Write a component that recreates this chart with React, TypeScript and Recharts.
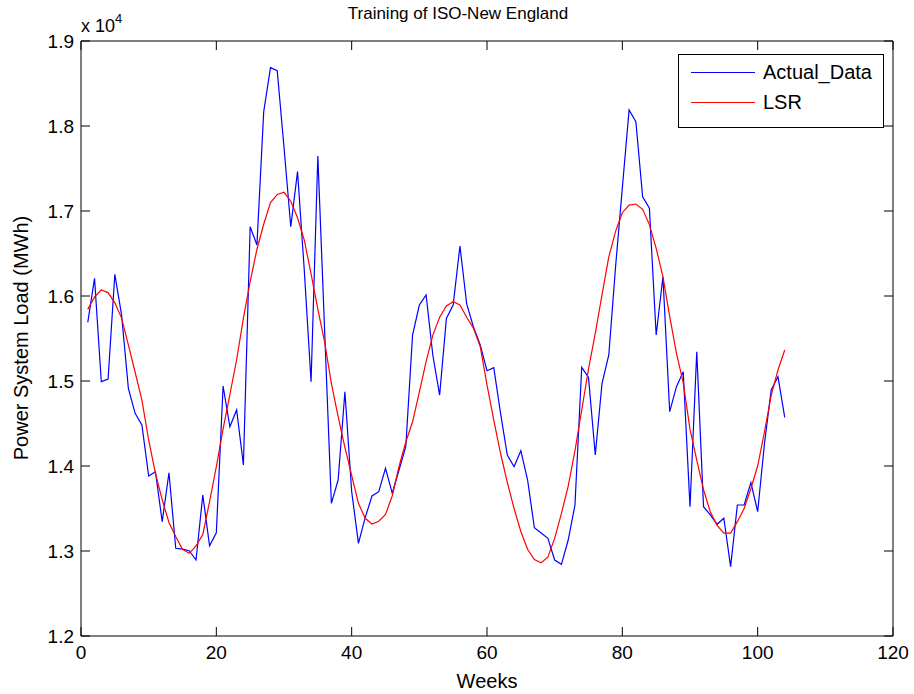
import React from 'react';
import { LineChart, Line, XAxis, YAxis, Legend } from 'recharts';

const weeks = [
  1, 2, 3, 4, 5, 6, 7, 8, 9, 10, 11, 12, 13, 14, 15, 16, 17, 18, 19, 20,
  21, 22, 23, 24, 25, 26, 27, 28, 29, 30, 31, 32, 33, 34, 35, 36, 37, 38, 39, 40,
  41, 42, 43, 44, 45, 46, 47, 48, 49, 50, 51, 52, 53, 54, 55, 56, 57, 58, 59, 60,
  61, 62, 63, 64, 65, 66, 67, 68, 69, 70, 71, 72, 73, 74, 75, 76, 77, 78, 79, 80,
  81, 82, 83, 84, 85, 86, 87, 88, 89, 90, 91, 92, 93, 94, 95, 96, 97, 98, 99, 100,
  101, 102, 103, 104,
];

const actualData = [
  15690, 16208, 14992, 15023, 16255, 15776, 14914, 14620, 14482, 13882,
  13933, 13345, 13921, 13032, 13023, 13003, 12894, 13659, 13062, 13215,
  14941, 14462, 14659, 14012, 16815, 16600, 18168, 18686, 18651, 17750,
  16815, 17463, 16300, 14992, 17647, 15604, 13561, 13835, 14874, 13700,
  13090, 13392, 13647, 13698, 13973, 13679, 13953, 14227, 15541, 15894,
  16012, 15300, 14835, 15737, 15894, 16588, 15906, 15635, 15423, 15121,
  15157, 14623, 14129, 13992, 14180, 13835, 13274, 13212, 13149, 12894,
  12843, 13129, 13541, 15161, 15043, 14129, 14973, 15306, 16345, 17270,
  18188, 18051, 17168, 17032, 15541, 16227, 14639, 14933, 15109, 13521,
  15345, 13521, 13424, 13314, 13385, 12816, 13541, 13541, 13804, 13462,
  14259, 14894, 15050, 14573,
];

const lsrData = [
  15843, 15990, 16071, 16040, 15920, 15740, 15426, 15103, 14776, 14306,
  13914, 13603, 13336, 13170, 13020, 12973, 13059, 13195, 13580, 13992,
  14437, 14840, 15250, 15740, 16169, 16550, 16844, 17100, 17195, 17220,
  17115, 16920, 16658, 16260, 15846, 15460, 14973, 14581, 14219, 13890,
  13561, 13385, 13318, 13350, 13430, 13650, 13994, 14282, 14520, 14870,
  15227, 15540, 15750, 15882, 15933, 15894, 15750, 15620, 15404, 14955,
  14541, 14150, 13808, 13500, 13230, 13020, 12900, 12860, 12930, 13149,
  13443, 13763, 14180, 14659, 15140, 15560, 16016, 16460, 16760, 16980,
  17070, 17082, 17020, 16840, 16561, 16227, 15760, 15325, 14980, 14430,
  14070, 13720, 13462, 13300, 13210, 13210, 13345, 13500, 13735, 14000,
  14400, 14830, 15130, 15365,
];

const xTicks = [0, 20, 40, 60, 80, 100, 120];
const yTicks = [12000, 13000, 14000, 15000, 16000, 17000, 18000, 19000];

const seriesNames = { actual: 'Actual_Data', lsr: 'LSR' };
const titleText = 'Training of ISO-New England';
const xLabel = 'Weeks';
const yLabel = 'Power System Load (MWh)';

const data = weeks.map((w, i) => ({ week: w, actual: actualData[i], lsr: lsrData[i] }));

const FONT = '"Liberation Sans", Arial, Helvetica, sans-serif';
const TICK_LEN = 9;

const BottomTick = (props: any) => {
  const { x, y, payload } = props;
  return (
    <g>
      <line x1={x} y1={y} x2={x} y2={y - TICK_LEN} stroke="#000" strokeWidth={1} />
      <text x={x} y={y + 23} textAnchor="middle" fontSize={19} fontFamily={FONT} fill="#000">
        {payload.value}
      </text>
    </g>
  );
};

const TopTick = (props: any) => {
  const { x, y } = props;
  return <line x1={x} y1={y} x2={x} y2={y + TICK_LEN} stroke="#000" strokeWidth={1} />;
};

const LeftTick = (props: any) => {
  const { x, y, payload } = props;
  return (
    <g>
      <line x1={x} y1={y} x2={x + TICK_LEN} y2={y} stroke="#000" strokeWidth={1} />
      <text x={x - 7} y={y + 7} textAnchor="end" fontSize={19} fontFamily={FONT} fill="#000">
        {(payload.value / 10000).toFixed(1)}
      </text>
    </g>
  );
};

const RightTick = (props: any) => {
  const { x, y } = props;
  return <line x1={x} y1={y} x2={x - TICK_LEN} y2={y} stroke="#000" strokeWidth={1} />;
};

const LegendBox = () => (
  <div
    style={{
      width: 206,
      height: 74,
      border: '1px solid #000',
      background: '#fff',
      boxSizing: 'border-box',
      fontFamily: FONT,
      fontSize: 20,
      position: 'relative',
    }}
  >
    {[
      { name: seriesNames.actual, color: '#0000ff', top: 17 },
      { name: seriesNames.lsr, color: '#ff0000', top: 47 },
    ].map((e) => (
      <div key={e.name} style={{ position: 'absolute', left: 12, top: e.top - 12, height: 24, display: 'flex', alignItems: 'center' }}>
        <div style={{ width: 64, height: 0, borderTop: `1px solid ${e.color}` }} />
        <span style={{ marginLeft: 8, lineHeight: '24px', color: '#000' }}>{e.name}</span>
      </div>
    ))}
  </div>
);

export default function App() {
  return (
    <div style={{ position: 'absolute', left: 0, top: 0, width: 914, height: 694, background: '#fff' }}>
      <LineChart
        width={914}
        height={694}
        data={data}
        margin={{ top: 40, right: 20, bottom: 0, left: 0 }}
      >
        <XAxis
          xAxisId="bottom"
          dataKey="week"
          type="number"
          domain={[0, 120]}
          ticks={xTicks}
          orientation="bottom"
          height={58}
          tickSize={0}
          tickMargin={0}
          tickLine={false}
          tick={<BottomTick />}
          axisLine={{ stroke: '#000', strokeWidth: 1 }}
          interval={0}
          allowDataOverflow
        />
        <XAxis
          xAxisId="top"
          dataKey="week"
          type="number"
          domain={[0, 120]}
          ticks={xTicks}
          orientation="top"
          height={1}
          tickSize={0}
          tickMargin={0}
          tickLine={false}
          tick={<TopTick />}
          axisLine={{ stroke: '#000', strokeWidth: 1 }}
          interval={0}
          allowDataOverflow
        />
        <YAxis
          yAxisId="left"
          type="number"
          domain={[12000, 19000]}
          ticks={yTicks}
          orientation="left"
          width={81}
          tickSize={0}
          tickMargin={0}
          tickLine={false}
          tick={<LeftTick />}
          axisLine={{ stroke: '#000', strokeWidth: 1 }}
          interval={0}
          allowDataOverflow
        />
        <YAxis
          yAxisId="right"
          type="number"
          domain={[12000, 19000]}
          ticks={yTicks}
          orientation="right"
          width={1}
          tickSize={0}
          tickMargin={0}
          tickLine={false}
          tick={<RightTick />}
          axisLine={{ stroke: '#000', strokeWidth: 1 }}
          interval={0}
          allowDataOverflow
        />
        <Legend
          layout="vertical"
          align="center"
          verticalAlign="middle"
          content={() => <LegendBox />}
          wrapperStyle={{ position: 'absolute', left: 678, top: 54, width: 206, height: 74 }}
        />
        <Line
          xAxisId="bottom"
          yAxisId="left"
          type="linear"
          dataKey="actual"
          name={seriesNames.actual}
          stroke="#0000ff"
          strokeWidth={1.2}
          dot={false}
          isAnimationActive={false}
        />
        <Line
          xAxisId="bottom"
          yAxisId="left"
          type="linear"
          dataKey="lsr"
          name={seriesNames.lsr}
          stroke="#ff0000"
          strokeWidth={1.2}
          dot={false}
          isAnimationActive={false}
        />
        <Line
          xAxisId="top"
          yAxisId="right"
          type="linear"
          dataKey="lsr"
          stroke="none"
          dot={false}
          legendType="none"
          isAnimationActive={false}
        />
      </LineChart>
      <div
        style={{
          position: 'absolute',
          left: 458,
          top: 14,
          transform: 'translate(-50%, -50%)',
          fontFamily: FONT,
          fontSize: 17,
          whiteSpace: 'nowrap',
          color: '#000',
        }}
      >
        {titleText}
      </div>
      <div
        style={{
          position: 'absolute',
          left: 81,
          top: 16,
          fontFamily: FONT,
          fontSize: 18,
          whiteSpace: 'nowrap',
          color: '#000',
          lineHeight: '20px',
        }}
      >
        x 10<sup style={{ fontSize: 13, verticalAlign: 'top', position: 'relative', top: -7 }}>4</sup>
      </div>
      <div
        style={{
          position: 'absolute',
          left: 487,
          top: 681,
          transform: 'translate(-50%, -50%)',
          fontFamily: FONT,
          fontSize: 20,
          whiteSpace: 'nowrap',
          color: '#000',
        }}
      >
        {xLabel}
      </div>
      <div
        style={{
          position: 'absolute',
          left: 21,
          top: 338,
          transform: 'translate(-50%, -50%) rotate(-90deg)',
          fontFamily: FONT,
          fontSize: 20,
          whiteSpace: 'nowrap',
          color: '#000',
        }}
      >
        {yLabel}
      </div>
    </div>
  );
}
